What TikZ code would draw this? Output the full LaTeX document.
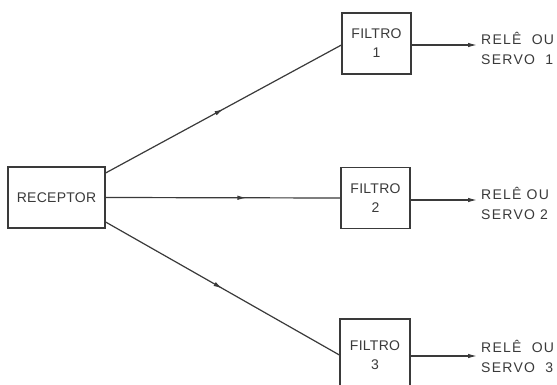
\documentclass[tikz,border=0pt]{standalone}
\usepackage{fontspec}
\setmainfont{Liberation Sans}
\newfontfamily\boxfont[LetterSpace=2]{Liberation Sans}
\newfontfamily\outfont[LetterSpace=9]{Liberation Sans}
\usetikzlibrary{arrows.meta,decorations.markings}
\definecolor{ink}{HTML}{3A3A3A}
\begin{document}
\begin{tikzpicture}[x=1pt,y=-1pt,
  ink line/.style={draw=ink,line width=1.2pt},
  blockbox/.style={ink line,rectangle,inner sep=0pt,minimum height=61pt,
    text=ink,align=center,font=\boxfont\fontsize{14}{19}\selectfont},
  outlabel/.style={anchor=west,inner sep=0pt,align=left,text=ink,
    font=\outfont\fontsize{14}{20}\selectfont},
  endarrow/.style={ink line,-{Latex[length=9pt,width=4.5pt]}},
  midarrow/.style={ink line,decoration={markings,
    mark=at position #1 with {\arrow{Latex[length=9pt,width=4.5pt]}}},postaction={decorate}}
]
\useasboundingbox (0,0) rectangle (557,385);
\clip (0,0) rectangle (557,385);
\fill[white] (0,0) rectangle (557,385);

\node[blockbox,minimum width=97pt] (rec) at (56.5,197.5) {RECEPTOR};
\node[blockbox,minimum width=69pt] (f1) at (376.5,43.5) {FILTRO\\1};
\node[blockbox,minimum width=69pt] (f2) at (375.5,198) {FILTRO\\2};
\node[blockbox,minimum width=70pt,minimum height=72pt] (f3) at (375,355) {FILTRO\\3};

\coordinate (o1) at (477,45);
\coordinate (o2) at (477,200);
\coordinate (o3) at (477,356);

\draw[midarrow=0.5] ([yshift=24.5pt]rec.east) -- ([yshift=-1.5pt]f1.west);
\draw[midarrow=0.6] (rec.east) -- (f2.west);
\draw[midarrow=0.5] ([yshift=-24.5pt]rec.east) -- (f3.west);

\draw[endarrow] (f1.east |- o1) -- (o1);
\draw[endarrow] (f2.east |- o2) -- (o2);
\draw[endarrow] (f3.east |- o3) -- (o3);

\node[outlabel] (l1) at (481,48) {REL\^E\ \ OU\\SERVO\ \ 1};
\node[outlabel] (l2) at (481,203) {REL\^E OU\\SERVO\ 2};
\node[outlabel] (l3) at (481,356) {REL\^E\ \ OU\\SERVO\ \ 3};
\end{tikzpicture}
\end{document}
